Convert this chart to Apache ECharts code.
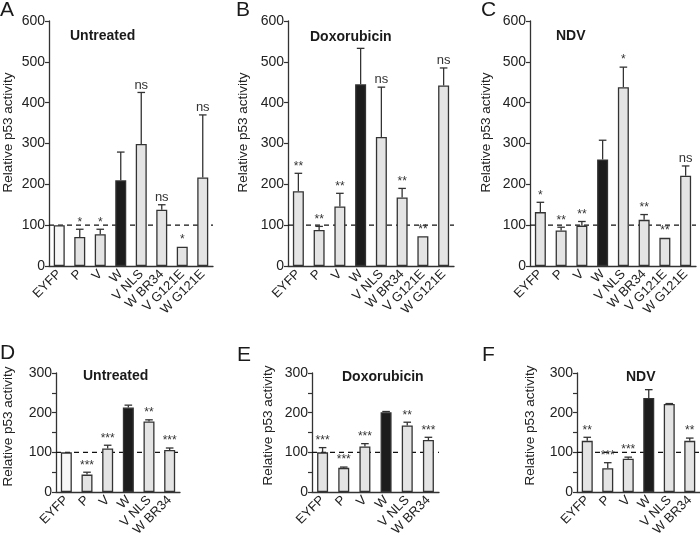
<!DOCTYPE html>
<html>
<head>
<meta charset="utf-8">
<script src="https://cdn.jsdelivr.net/npm/echarts@6/dist/echarts.min.js"></script>
<style>
  html, body { margin: 0; padding: 0; background: #fff; }
  #chart { width: 700px; height: 539px; }
</style>
</head>
<body>
<div id="chart"></div>
<script>
// categories
var catsLong = ["EYFP", "P", "V", "W", "V NLS", "W BR34", "V G121E", "W G121E"];
var catsShort = ["EYFP", "P", "V", "W", "V NLS", "W BR34"];

// A - untreated
var untreatedA = [100, 71, 78, 210, 299, 138, 47, 217];
var untreatedAErr = [null, 90, 90, 279, 425, 150, null, 370];
var untreatedASig = ["", "*", "*", "", "ns", "ns", "*", "ns"];

// B - doxorubicin
var doxoB = [183, 88, 146, 445, 316, 168, 73, 442];
var doxoBErr = [227, 97, 178, 533, 438, 190, null, 485];
var doxoBSig = ["**", "**", "**", "", "ns", "**", "**", "ns"];

// C - NDV
var ndvC = [132, 87, 99, 261, 438, 113, 69, 221];
var ndvCErr = [156, 95, 109, 308, 487, 126, null, 245];
var ndvCSig = ["*", "**", "**", "", "*", "**", "**", "ns"];

// D - untreated
var untreatedD = [100, 44, 110, 213, 178, 106];
var untreatedDErr = [null, 50, 118, 219, 182, 111];
var untreatedDSig = ["", "***", "***", "", "**", "***"];

// E - doxorubicin
var doxoE = [100, 61, 115, 201, 168, 131];
var doxoEErr = [112, 63, 122, 203, 176, 138];
var doxoESig = ["***", "***", "***", "", "**", "***"];

// F - NDV
var ndvF = [129, 60, 84, 237, 222, 129];
var ndvFErr = [138, 74, 88, 258, 223, 136];
var ndvFSig = ["**", "***", "***", "", "", "**"];

var yTicksTop = [0, 600];
var yTicksBottom = [0, 300];
var refLevel = 100;

var FONT = '"Liberation Sans", Arial, sans-serif';
var AXIS = "#333";
var TEXT = "#222";

var chart = echarts.init(document.getElementById("chart"));

var panels = [
  { cats: catsLong, vals: untreatedA, errs: untreatedAErr, sigs: untreatedASig, range: yTicksTop, ref: true,
    grid: { left: 47, top: 21, width: 166, height: 245 }, gap: 34, lift: 22 },
  { cats: catsLong, vals: doxoB, errs: doxoBErr, sigs: doxoBSig, range: yTicksTop, ref: false,
    grid: { left: 288, top: 21, width: 166, height: 245 }, gap: 38, lift: 22 },
  { cats: catsLong, vals: ndvC, errs: ndvCErr, sigs: ndvCSig, range: yTicksTop, ref: false,
    grid: { left: 530, top: 21, width: 166, height: 245 }, gap: 37, lift: 22 },
  { cats: catsShort, vals: untreatedD, errs: untreatedDErr, sigs: untreatedDSig, range: yTicksBottom, ref: true,
    grid: { left: 53, top: 373, width: 127, height: 125 }, gap: 41, lift: 12 },
  { cats: catsShort, vals: doxoE, errs: doxoEErr, sigs: doxoESig, range: yTicksBottom, ref: false,
    grid: { left: 312, top: 373, width: 127, height: 125 }, gap: 37, lift: 14 },
  { cats: catsShort, vals: ndvF, errs: ndvFErr, sigs: ndvFSig, range: yTicksBottom, ref: false,
    grid: { left: 577, top: 373, width: 127, height: 125 }, gap: 40, lift: 14 }
];

function barColor(cat, ref) {
  if (cat === "W") return "#1c1c1c";
  if (cat === "EYFP" && ref) return "#f7f7f7";
  return "#e4e4e4";
}

// dashed line at the reference level, behind the bars
function refLineRender(params, api) {
  var cs = params.coordSys;
  var y = api.coord([0, api.value(1)])[1];
  return {
    type: "line",
    shape: { x1: cs.x, y1: y, x2: cs.x + cs.width, y2: y },
    style: { stroke: "#111", lineWidth: 1.3, lineDash: [5, 4] }
  };
}

// draws the upper error whisker and the significance mark above it
function errRender(sigs) {
  return function (params, api) {
    var i = api.value(0);
    var v = api.value(1);
    var e = api.value(2);
    var p0 = api.coord([i, v]);
    var p1 = api.coord([i, e]);
    var kids = [];
    if (e > v) {
      kids.push({ type: "line", shape: { x1: p0[0], y1: p0[1], x2: p1[0], y2: p1[1] },
        style: { stroke: AXIS, lineWidth: 1.3 } });
      kids.push({ type: "line", shape: { x1: p1[0] - 3.8, y1: p1[1], x2: p1[0] + 3.8, y2: p1[1] },
        style: { stroke: AXIS, lineWidth: 1.3 } });
    }
    var s = sigs[params.dataIndex];
    if (s) {
      kids.push({ type: "text", style: { text: s, x: p1[0], y: p1[1] - 1, align: "center", verticalAlign: "bottom",
        fontSize: s === "ns" ? 13 : 12, fontFamily: FONT, fill: "#333" } });
    }
    return { type: "group", children: kids };
  };
}

var grids = [], xAxes = [], yAxes = [], series = [];

panels.forEach(function (p, k) {
  grids.push(Object.assign({ containLabel: false }, p.grid));
  xAxes.push({
    gridIndex: k, type: "category", data: p.cats,
    axisLine: { lineStyle: { color: AXIS, width: 1.3 } },
    axisTick: { length: 4, lineStyle: { color: AXIS, width: 1.2 } },
    axisLabel: { rotate: 45, interval: 0, margin: 6, fontSize: 13, color: TEXT, fontFamily: FONT }
  });
  yAxes.push({
    gridIndex: k, type: "value", min: p.range[0], max: p.range[1], interval: 100,
    name: "Relative p53 activity", nameLocation: "middle", nameGap: p.gap,
    nameTextStyle: { fontSize: 13.5, color: TEXT, fontFamily: FONT, padding: [0, 0, 0, p.lift] },
    axisLine: { show: true, lineStyle: { color: AXIS, width: 1.3 } },
    axisTick: { show: true, length: 4, lineStyle: { color: AXIS, width: 1.2 } },
    minorTick: { show: p.range[1] === 300, splitNumber: 2, length: 4, lineStyle: { color: AXIS, width: 1.2 } },
    splitLine: { show: false },
    axisLabel: { fontSize: 14, margin: 4, color: TEXT, fontFamily: FONT }
  });
  series.push({
    type: "custom", xAxisIndex: k, yAxisIndex: k, z: 1, silent: true,
    renderItem: refLineRender,
    data: [[0, refLevel]]
  });
  series.push({
    type: "bar", xAxisIndex: k, yAxisIndex: k, barWidth: 11, z: 2,
    data: p.vals.map(function (v, i) {
      return { value: v, itemStyle: { color: barColor(p.cats[i], p.ref), borderColor: "#333", borderWidth: 1.3 } };
    })
  });
  series.push({
    type: "custom", xAxisIndex: k, yAxisIndex: k, z: 3,
    renderItem: errRender(p.sigs),
    data: p.vals.map(function (v, i) { return [i, v, p.errs[i] == null ? v : p.errs[i]]; })
  });
});

var titleStyle = { fontSize: 14, fontWeight: "bold", color: "#1a1a1a", fontFamily: FONT };
var letterStyle = { fontSize: 21, fontWeight: "normal", color: "#1a1a1a", fontFamily: FONT };

var option = {
  backgroundColor: "#fff",
  animation: false,
  title: [
    { text: "A", left: 0, top: 0, padding: 0, textStyle: letterStyle },
    { text: "B", left: 236, top: 0, padding: 0, textStyle: letterStyle },
    { text: "C", left: 481, top: 0, padding: 0, textStyle: letterStyle },
    { text: "D", left: 0, top: 343, padding: 0, textStyle: letterStyle },
    { text: "E", left: 237, top: 345, padding: 0, textStyle: letterStyle },
    { text: "F", left: 482, top: 345, padding: 0, textStyle: letterStyle },
    { text: "Untreated", left: 70, top: 29, padding: 0, textStyle: titleStyle },
    { text: "Doxorubicin", left: 310, top: 30, padding: 0, textStyle: titleStyle },
    { text: "NDV", left: 556, top: 29, padding: 0, textStyle: titleStyle },
    { text: "Untreated", left: 83, top: 369, padding: 0, textStyle: titleStyle },
    { text: "Doxorubicin", left: 342, top: 370, padding: 0, textStyle: titleStyle },
    { text: "NDV", left: 626, top: 370, padding: 0, textStyle: titleStyle }
  ],
  grid: grids,
  xAxis: xAxes,
  yAxis: yAxes,
  series: series
};

chart.setOption(option);
</script>
</body>
</html>
